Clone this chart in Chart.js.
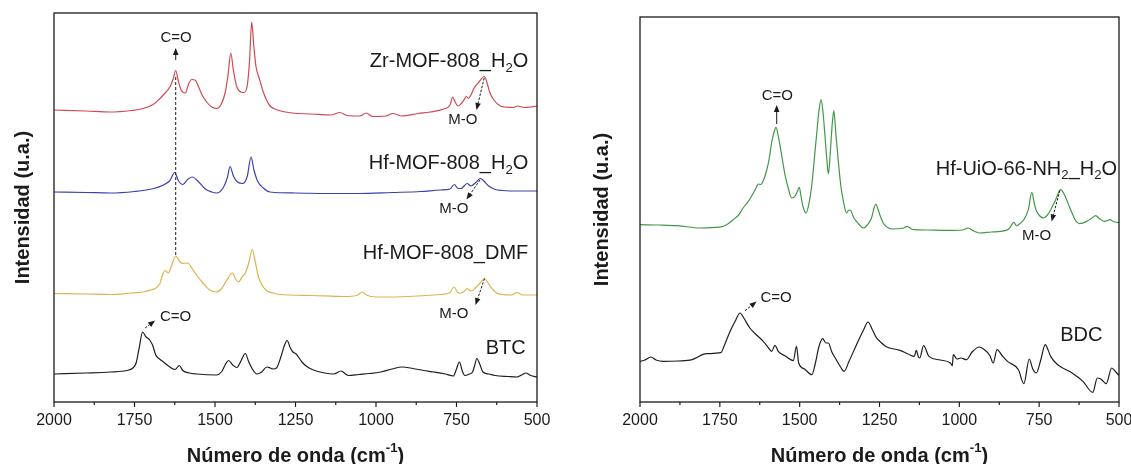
<!DOCTYPE html>
<html>
<head>
<meta charset="utf-8">
<title>FTIR</title>
<script src="https://cdn.jsdelivr.net/npm/chart.js@4.4.0/dist/chart.umd.min.js"></script>
<style>
  html, body { margin: 0; padding: 0; background: #fff; overflow: hidden; width: 1131px; height: 464px; }
  .panel { position: absolute; top: 0; height: 464px; }
  #leftPanel { left: 0; width: 565px; }
  #rightPanel { left: 565px; width: 580px; }
</style>
</head>
<body>
<div class="panel" id="leftPanel"><canvas id="chartLeft"></canvas></div>
<div class="panel" id="rightPanel"><canvas id="chartRight"></canvas></div>
<script>
// ---- Spectra: [wavenumber (cm-1), intensity (a.u., stacked)] ----
const zrMof808H2O = [[2000,292],[1900,291],[1826,290],[1760,291.5],[1723,293.5],[1690,298],[1671,303.5],[1655,309],[1640,315],[1630,323],[1622,331.5],[1614,321],[1605,312],[1592,309],[1582,318],[1572,322.5],[1562,322],[1552,316],[1540,307],[1526,300],[1510,295],[1495,293.5],[1482,297],[1469,308.5],[1460,326],[1451,349],[1443,332],[1433,316],[1420,310],[1410,309.5],[1400,316],[1393,340],[1386,380],[1380,358],[1373,336],[1362,323],[1350,310],[1340,302],[1329,296],[1310,292.5],[1290,290.5],[1260,289],[1200,288],[1140,287],[1112,289.5],[1090,286.5],[1050,286],[1031,289],[1010,285.5],[970,286],[947,288.5],[920,286],[870,288.5],[832,290],[790,293],[770,297],[762,305],[755,300.5],[745,296],[735,298.5],[725,303],[720,305.5],[713,303.5],[705,307],[696,313.5],[680,320],[664,325.5],[656,320],[646,309],[634,302],[614,296],[600,295],[574,294.5],[560,296],[540,294.5],[522,295],[500,296]];

const hfMof808H2O = [[2000,210],[1900,209.5],[1826,209],[1750,210.5],[1690,213.5],[1660,217],[1640,221.5],[1625,229.5],[1614,221.5],[1600,217.5],[1585,222.5],[1570,225],[1555,221.5],[1530,213],[1510,210],[1495,209],[1475,214],[1462,224],[1453,235.5],[1443,226],[1430,220],[1414,218.5],[1400,225.5],[1388,245],[1379,232],[1368,221],[1350,214],[1329,210],[1250,209],[1150,208.5],[1053,208.5],[950,209.5],[860,210.5],[800,212],[770,213],[757,217.5],[745,213.5],[736,213.5],[717,218.5],[705,216],[690,219.5],[676,223.5],[665,221],[652,216.5],[630,212.5],[607,211.5],[550,211],[500,211]];

const hfMof808DMF = [[2000,108.5],[1900,108],[1826,107.5],[1760,109],[1723,110],[1700,112],[1686,113.5],[1672,118],[1662,128],[1655,131.5],[1645,129],[1635,136],[1622,146],[1610,140.5],[1600,138.5],[1585,139],[1570,133],[1555,126],[1540,120],[1516,112],[1495,110],[1478,114],[1464,121.5],[1446,129],[1436,123],[1427,120],[1416,125],[1406,129],[1396,138],[1384,152.5],[1376,142],[1365,125],[1352,116],[1340,111.5],[1320,109],[1300,107.5],[1200,106.5],[1100,105.5],[1060,106.5],[1042,110],[1030,107],[1000,105],[900,105.5],[800,107.5],[770,109.5],[758,115],[746,109.5],[737,109],[725,111],[718,113.5],[705,111],[690,114.5],[675,119.5],[663,123.5],[652,119],[640,113.5],[625,109],[610,107.5],[580,107],[562,109.5],[545,107],[500,107]];

const btcLinker = [[2000,28],[1900,29],[1826,30],[1774,31.5],[1755,34],[1745,39],[1735,55],[1725,70],[1715,65.5],[1703,62],[1694,57],[1684,47],[1672,43],[1660,40],[1640,35],[1624,32.5],[1611,36.5],[1600,31.5],[1580,29],[1557,28],[1495,27],[1478,31],[1467,38],[1458,41.5],[1445,37],[1432,34.5],[1418,42],[1406,48.5],[1395,40],[1385,33.5],[1370,28],[1355,30],[1339,35],[1328,34],[1320,33],[1309,34],[1295,45.5],[1284,57],[1276,61.5],[1266,54],[1258,50],[1248,48],[1230,40],[1215,35.5],[1198,32.5],[1160,29],[1131,28],[1109,31],[1086,26.5],[1053,27.5],[1020,28.5],[986,30],[950,33],[919,35],[885,33.5],[852,31.5],[820,30],[785,28],[760,26],[750,33],[741,40],[732,31],[724,26.5],[710,28],[700,30],[694,36],[687,43.5],[678,38],[668,30],[650,28],[630,26.5],[590,25.5],[562,25],[548,27],[535,29],[520,26.5],[500,25]];

const hfUio66NH2H2O = [[2000,177.3],[1940,177],[1882,176.3],[1812,174],[1750,174.8],[1730,177],[1708,182.3],[1690,187.5],[1677,194],[1660,201],[1645,209],[1635,215],[1630,218],[1622,217.5],[1613,222],[1603,232],[1595,244],[1588,259],[1580,270],[1574,274.6],[1567,266],[1562,257.3],[1554,242],[1546,227.3],[1535,213],[1525,204],[1514,206],[1508,210],[1501,214.6],[1496,206],[1490,196],[1480,189],[1470,200],[1462,217.3],[1455,240],[1447,267.3],[1440,290],[1433,302.3],[1427,290],[1421,267.3],[1415,243],[1410,228],[1404,250],[1398,278],[1393,291.3],[1387,270],[1379,240.6],[1371,216],[1364,202.3],[1353,189],[1346,192],[1340,191.3],[1330,184],[1315,178],[1301,174],[1288,177],[1275,184],[1266,195],[1261,198],[1255,193],[1249,187.3],[1240,180],[1230,175.6],[1208,173],[1175,174],[1163,175.6],[1150,173],[1141,172.3],[1100,172],[1040,171.6],[990,172],[972,174],[955,171],[938,169],[900,170],[871,170.6],[845,173],[829,179.6],[820,176],[815,177.3],[798,182.3],[784,192.3],[773,209.6],[765,198],[760,192.3],[748,186],[736,184],[724,187],[714,192.3],[700,201],[683,212.3],[672,208],[664,202.3],[655,195],[647,189],[635,181],[624,178.3],[601,180.6],[585,184],[573,186.3],[560,183],[545,180.6],[528,182.3],[515,180],[500,179.6]];

const bdcLinker = [[2000,40.6],[1985,42],[1966,45],[1950,42],[1927,40.6],[1880,41],[1837,42.3],[1792,48.3],[1747,49.3],[1735,57.3],[1718,70.6],[1700,82],[1687,89],[1675,84],[1656,74],[1635,67],[1614,60.6],[1595,53],[1588,50.6],[1577,56.6],[1567,50.6],[1545,46],[1520,41.3],[1510,55.6],[1503,39],[1485,33],[1462,27.3],[1450,40],[1440,55],[1428,63.3],[1418,59],[1410,59],[1400,50.6],[1385,42],[1370,34],[1361,30.6],[1345,41],[1322,57.3],[1300,72],[1286,80],[1272,72],[1259,64],[1249,60.6],[1230,55.6],[1186,51.6],[1160,48],[1141,45.6],[1135,51.6],[1128,45],[1124,44],[1112,56.3],[1095,45.6],[1060,42],[1028,39],[1022,36.3],[1019,47.3],[1007,43],[995,44],[978,42.3],[960,50],[938,55],[920,52],[904,46.3],[894,39],[882,52.3],[865,46],[849,40.6],[815,32.3],[798,18.3],[781,43],[770,33],[759,29],[745,42],[731,57.3],[722,52],[714,45.6],[692,37.3],[670,33],[647,29],[613,20.6],[582,9.6],[568,24],[557,23],[540,18.3],[523,34],[510,30],[500,26.6]];

// ---- Axis ----
const waveMin = 500, waveMax = 2000;
const majorTicks = [2000, 1750, 1500, 1250, 1000, 750, 500];
const minorTicks = [1875, 1625, 1375, 1125, 875, 625];
const xTitle = [{t: 'Número de onda (cm'}, {t: '-1', sup: true}, {t: ')'}];
const yTitle = 'Intensidad (u.a.)';

// ---- Sample names (with subscripts) ----
const nameZr = [{t: 'Zr-MOF-808_H'}, {t: '2', sub: true}, {t: 'O'}];
const nameHfH2O = [{t: 'Hf-MOF-808_H'}, {t: '2', sub: true}, {t: 'O'}];
const nameHfDMF = [{t: 'Hf-MOF-808_DMF'}];
const nameBTC = [{t: 'BTC'}];
const nameUio = [{t: 'Hf-UiO-66-NH'}, {t: '2', sub: true}, {t: '_H'}, {t: '2', sub: true}, {t: 'O'}];
const nameBDC = [{t: 'BDC'}];
const bandCO = [{t: 'C=O'}];
const bandMO = [{t: 'M-O'}];

const FONT = '"Liberation Sans", Arial, Helvetica, sans-serif';
const INK = '#1b1b1b';

function fontStr(size, weight) { return (weight || 'normal') + ' ' + size + 'px ' + FONT; }

function richWidth(ctx, segs, size, weight) {
  let w = 0;
  for (const s of segs) {
    ctx.font = fontStr((s.sub || s.sup) ? size * 0.66 : size, weight);
    w += ctx.measureText(s.t).width;
  }
  return w;
}

function drawRich(ctx, segs, x, y, size, weight, align) {
  const total = richWidth(ctx, segs, size, weight);
  let cx = align === 'right' ? x - total : align === 'center' ? x - total / 2 : x;
  ctx.textAlign = 'left';
  ctx.textBaseline = 'middle';
  for (const s of segs) {
    const fs = (s.sub || s.sup) ? size * 0.66 : size;
    ctx.font = fontStr(fs, weight);
    const dy = s.sub ? size * 0.32 : s.sup ? -size * 0.36 : 0;
    ctx.fillText(s.t, cx, y + dy);
    cx += ctx.measureText(s.t).width;
  }
}

function drawArrow(ctx, x1, y1, x2, y2, dashed) {
  const ang = Math.atan2(y2 - y1, x2 - x1);
  const hl = 7, hw = 2.8;
  const bx = x2 - hl * Math.cos(ang), by = y2 - hl * Math.sin(ang);
  ctx.lineWidth = 1;
  ctx.setLineDash(dashed ? [2.5, 1.5] : []);
  ctx.beginPath(); ctx.moveTo(x1, y1); ctx.lineTo(bx, by); ctx.stroke();
  ctx.setLineDash([]);
  ctx.beginPath();
  ctx.moveTo(x2, y2);
  ctx.lineTo(bx + hw * Math.sin(ang), by - hw * Math.cos(ang));
  ctx.lineTo(bx - hw * Math.sin(ang), by + hw * Math.cos(ang));
  ctx.closePath(); ctx.fill();
}

// Frame, outward ticks, axis titles, band labels and sample names
function decorations(cfg) {
  return {
    id: 'decor',
    afterDatasetsDraw(chart) {
      const {ctx, chartArea: a, scales: {x, y}} = chart;
      const P = (w, v) => [x.getPixelForValue(w), y.getPixelForValue(v)];
      ctx.save();
      ctx.strokeStyle = INK; ctx.fillStyle = INK;

      // dashed guide lines
      for (const g of cfg.guides || []) {
        const [x1, y1] = P(g.from[0], g.from[1]);
        const [x2, y2] = P(g.to[0], g.to[1]);
        ctx.lineWidth = 1; ctx.setLineDash([3, 2]);
        ctx.beginPath(); ctx.moveTo(x1, y1); ctx.lineTo(x2, y2); ctx.stroke();
        ctx.setLineDash([]);
      }
      // arrows
      for (const ar of cfg.arrows) {
        const [x1, y1] = P(ar.from[0], ar.from[1]);
        const [x2, y2] = P(ar.to[0], ar.to[1]);
        drawArrow(ctx, x1, y1, x2, y2, ar.dashed);
      }
      // band labels and sample names
      for (const lb of cfg.labels) {
        const [lx, ly] = P(lb.at[0], lb.at[1]);
        drawRich(ctx, lb.segs, lx, ly, lb.size, 'normal', lb.align);
      }

      // frame
      ctx.lineWidth = 1.3;
      ctx.strokeRect(a.left, a.top, a.right - a.left, a.bottom - a.top);

      // ticks (outward)
      ctx.lineWidth = 1.2;
      for (const v of majorTicks) {
        const px = x.getPixelForValue(v);
        ctx.beginPath(); ctx.moveTo(px, a.bottom); ctx.lineTo(px, a.bottom + 5); ctx.stroke();
      }
      for (const v of minorTicks) {
        const px = x.getPixelForValue(v);
        ctx.beginPath(); ctx.moveTo(px, a.bottom); ctx.lineTo(px, a.bottom + 3); ctx.stroke();
      }

      // x title
      drawRich(ctx, xTitle, (a.left + a.right) / 2, 456, 20, 'bold', 'center');
      // y title
      ctx.save();
      ctx.translate(cfg.yTitleX, (a.top + a.bottom) / 2);
      ctx.rotate(-Math.PI / 2);
      ctx.font = fontStr(20, 'bold');
      ctx.textAlign = 'center'; ctx.textBaseline = 'middle';
      ctx.fillText(yTitle, 0, 0);
      ctx.restore();

      ctx.restore();
    }
  };
}

function toPoints(spec) { return spec.map(p => ({x: p[0], y: p[1]})); }

function makeChart(canvasId, series, yMax, padding, cfg) {
  return new Chart(document.getElementById(canvasId), {
    type: 'line',
    data: {
      datasets: series.map(s => ({
        data: toPoints(s.data),
        borderColor: s.color,
        borderWidth: 1.2,
        pointRadius: 0,
        fill: false,
        cubicInterpolationMode: 'monotone'
      }))
    },
    options: {
      responsive: true,
      maintainAspectRatio: false,
      animation: false,
      layout: {padding: padding},
      plugins: {legend: {display: false}, tooltip: {enabled: false}},
      scales: {
        x: {
          type: 'linear', min: waveMin, max: waveMax, reverse: true,
          grid: {display: false, drawTicks: false},
          border: {display: false},
          ticks: {
            stepSize: 250, padding: 9, color: INK, maxRotation: 0, autoSkip: false,
            font: {family: FONT, size: 16},
            callback: v => String(v)
          },
          afterFit: s => { s.height = 62; }
        },
        y: {display: false, min: 0, max: yMax}
      }
    },
    plugins: [decorations(cfg)]
  });
}

makeChart('chartLeft', [
  {data: zrMof808H2O, color: '#cf4a52'},
  {data: hfMof808H2O, color: '#3d41ad'},
  {data: hfMof808DMF, color: '#ddb34e'},
  {data: btcLinker, color: '#1e1e1e'}
], 389, {left: 54, right: 28, top: 13, bottom: 0}, {
  yTitleX: 23,
  guides: [{from: [1622, 325], to: [1622, 146]}],
  arrows: [
    {from: [1622, 342], to: [1622, 354], dashed: false},
    {from: [664, 324], to: [688, 292], dashed: true},
    {from: [677, 222], to: [719, 202.5], dashed: true},
    {from: [663, 123.5], to: [691, 97], dashed: true},
    {from: [1717, 74], to: [1686, 81.5], dashed: true}
  ],
  labels: [
    {segs: bandCO, at: [1621, 364], size: 15, align: 'center'},
    {segs: bandMO, at: [730, 282], size: 15, align: 'center'},
    {segs: bandMO, at: [758, 193.5], size: 15, align: 'center'},
    {segs: bandMO, at: [758, 88.5], size: 15, align: 'center'},
    {segs: bandCO, at: [1671, 85], size: 15, align: 'left'},
    {segs: nameZr, at: [527, 340.5], size: 20, align: 'right'},
    {segs: nameHfH2O, at: [527, 238.5], size: 20, align: 'right'},
    {segs: nameHfDMF, at: [527, 148.5], size: 20, align: 'right'},
    {segs: nameBTC, at: [535, 53.5], size: 20, align: 'right'}
  ]
});

makeChart('chartRight', [
  {data: hfUio66NH2H2O, color: '#43974a'},
  {data: bdcLinker, color: '#1e1e1e'}
], 385, {left: 75, right: 26, top: 17, bottom: 0}, {
  yTitleX: 37,
  guides: [],
  arrows: [
    {from: [1572, 278], to: [1572, 297], dashed: false},
    {from: [685, 211.6], to: [711, 180.6], dashed: true},
    {from: [1671, 91.3], to: [1635, 100.6], dashed: true}
  ],
  labels: [
    {segs: bandCO, at: [1570, 306.6], size: 15, align: 'center'},
    {segs: bandMO, at: [758, 166.3], size: 15, align: 'center'},
    {segs: bandCO, at: [1574, 104], size: 15, align: 'center'},
    {segs: nameUio, at: [506, 233], size: 20, align: 'right'},
    {segs: nameBDC, at: [618, 66.3], size: 20, align: 'center'}
  ]
});
</script>
</body>
</html>
